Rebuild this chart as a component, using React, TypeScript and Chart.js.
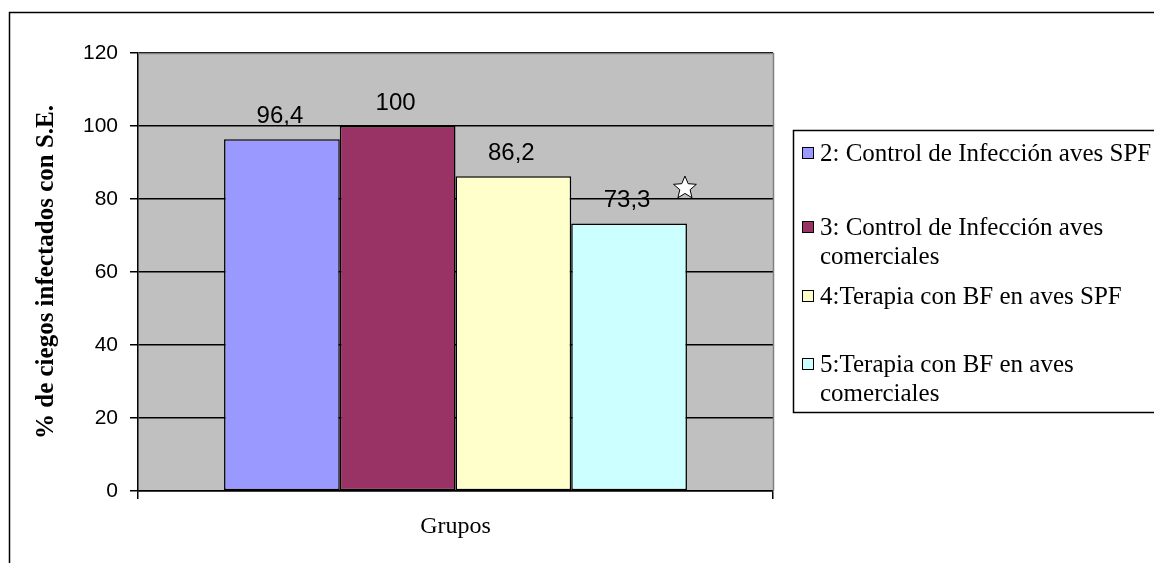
import React, { useEffect, useRef } from "react";
import { Chart, registerables } from "chart.js";

Chart.register(...registerables);

const categories = [""];
const seriesNames = [
  "2: Control de Infección aves SPF",
  "3: Control de Infección aves comerciales",
  "4:Terapia con BF en aves SPF",
  "5:Terapia con BF en aves comerciales",
];
const legendLines = [
  ["2: Control de Infección aves SPF"],
  ["3: Control de Infección aves", "comerciales"],
  ["4:Terapia con BF en aves SPF"],
  ["5:Terapia con BF en aves", "comerciales"],
];
const seriesValues = [96.4, 100, 86.2, 73.3];
const seriesColors = ["#9999FF", "#993366", "#FFFFCC", "#CCFFFF"];
const starMarkers = [null, null, null, 83];
const yTicks = [0, 20, 40, 60, 80, 100, 120];
const yTitle = "% de ciegos infectados con S.E.";
const xTitle = "Grupos";

const SANS = "'Liberation Sans', Arial, sans-serif";
const SERIF = "'Liberation Serif', 'Times New Roman', serif";

function fmt(v: number) {
  return String(v).replace(".", ",");
}

function drawStar(ctx: CanvasRenderingContext2D, cx: number, cy: number, R: number) {
  const r = R * 0.45;
  ctx.beginPath();
  for (let i = 0; i < 10; i++) {
    const rad = i % 2 === 0 ? R : r;
    const a = -Math.PI / 2 + (i * Math.PI) / 5;
    const x = cx + rad * Math.cos(a);
    const y = cy + rad * Math.sin(a);
    if (i === 0) ctx.moveTo(x, y);
    else ctx.lineTo(x, y);
  }
  ctx.closePath();
  ctx.fillStyle = "#FFFFFF";
  ctx.fill();
  ctx.strokeStyle = "#000000";
  ctx.lineWidth = 1;
  ctx.stroke();
}

const decorPlugin = {
  id: "decor",
  beforeDraw(chart: any) {
    const { ctx, chartArea: a } = chart;
    ctx.save();
    ctx.fillStyle = "#FFFFFF";
    ctx.fillRect(0, 0, chart.width, chart.height);
    ctx.fillStyle = "#C0C0C0";
    ctx.fillRect(a.left, a.top, a.right - a.left, a.bottom - a.top);
    ctx.restore();
  },
  afterDraw(chart: any) {
    const { ctx, chartArea: a } = chart;
    ctx.save();
    // plot area top/right border
    ctx.strokeStyle = "#808080";
    ctx.lineWidth = 1.5;
    ctx.beginPath();
    ctx.moveTo(a.left, a.top + 0.5);
    ctx.lineTo(a.right + 0.5, a.top + 0.5);
    ctx.lineTo(a.right + 0.5, a.bottom);
    ctx.stroke();

    // data labels and star markers
    chart.data.datasets.forEach((ds: any, i: number) => {
      const meta = chart.getDatasetMeta(i);
      meta.data.forEach((bar: any, j: number) => {
        ctx.fillStyle = "#000000";
        ctx.font = `24px ${SANS}`;
        ctx.textAlign = "center";
        ctx.textBaseline = "alphabetic";
        ctx.fillText(fmt(ds.data[j]), bar.x - 2, bar.y - 16);
      });
      const sv = starMarkers[i];
      if (sv != null) {
        const bar = meta.data[0];
        const y = chart.scales.y.getPixelForValue(sv);
        drawStar(ctx, bar.x + bar.width / 2 - 2, y, 12);
      }
    });

    // legend
    const lx = 793.5;
    const ly = 130.5;
    ctx.strokeStyle = "#000000";
    ctx.lineWidth = 1.5;
    ctx.strokeRect(lx, ly, 500, 282);
    ctx.font = `25px ${SERIF}`;
    ctx.textAlign = "left";
    ctx.textBaseline = "middle";
    const itemY = [153, 227, 296, 364];
    legendLines.forEach((lines, i) => {
      const y0 = itemY[i];
      ctx.fillStyle = seriesColors[i];
      ctx.fillRect(802.5, y0 - 5.5, 11, 11);
      ctx.strokeStyle = "#000000";
      ctx.lineWidth = 1;
      ctx.strokeRect(802.5, y0 - 5.5, 11, 11);
      ctx.fillStyle = "#000000";
      lines.forEach((t, k) => {
        ctx.fillText(t, 820, y0 + k * 29.5 + 1);
      });
    });

    // outer frame
    ctx.strokeStyle = "#000000";
    ctx.lineWidth = 1.5;
    ctx.strokeRect(9.5, 12.5, 1400, 800);
    ctx.restore();
  },
};

export default function App() {
  const ref = useRef<HTMLCanvasElement | null>(null);
  useEffect(() => {
    if (!ref.current) return;
    const chart = new Chart(ref.current, {
      type: "bar",
      data: {
        labels: categories,
        datasets: seriesNames.map((name, i) => ({
          label: name,
          data: [seriesValues[i]],
          backgroundColor: seriesColors[i],
          borderColor: "#000000",
          borderWidth: 1.5,
          borderSkipped: false,
          categoryPercentage: 0.729,
          barPercentage: 1,
        })),
      },
      options: {
        responsive: false,
        animation: false,
        layout: { padding: { left: 0, top: 53, right: 381, bottom: 0 } },
        plugins: {
          legend: { display: false },
          tooltip: { enabled: false },
        },
        scales: {
          x: {
            grid: {
              display: true,
              drawOnChartArea: false,
              drawTicks: true,
              tickLength: 8,
              color: "#000000",
              lineWidth: 1.5,
              offset: true,
            },
            border: { display: true, color: "#000000", width: 1.5 },
            ticks: { display: false },
            title: {
              display: true,
              text: xTitle,
              color: "#000000",
              font: { family: SERIF, size: 24 },
              padding: { top: 0, bottom: 22 },
            },
            afterFit(scale: any) {
              scale.height = 72;
            },
          },
          y: {
            min: 0,
            max: 120,
            afterBuildTicks(scale: any) {
              scale.ticks = yTicks.map((v) => ({ value: v }));
            },
            grid: {
              color: "#000000",
              lineWidth: 1.5,
              tickLength: 8,
              drawTicks: true,
            },
            border: { display: true, color: "#000000", width: 1.5 },
            ticks: {
              color: "#000000",
              font: { family: SANS, size: 21 },
              padding: 12,
            },
            title: {
              display: true,
              text: yTitle,
              color: "#000000",
              font: { family: SERIF, size: 25, weight: "bold" },
              padding: { top: 32, bottom: 0 },
            },
            afterFit(scale: any) {
              scale.width = 138;
            },
          },
        },
      },
      plugins: [decorPlugin],
    });
    return () => chart.destroy();
  }, []);
  return (
    <div style={{ position: "absolute", left: 0, top: 0, width: 1154, height: 563 }}>
      <canvas ref={ref} width={1154} height={563} style={{ display: "block" }} />
    </div>
  );
}
